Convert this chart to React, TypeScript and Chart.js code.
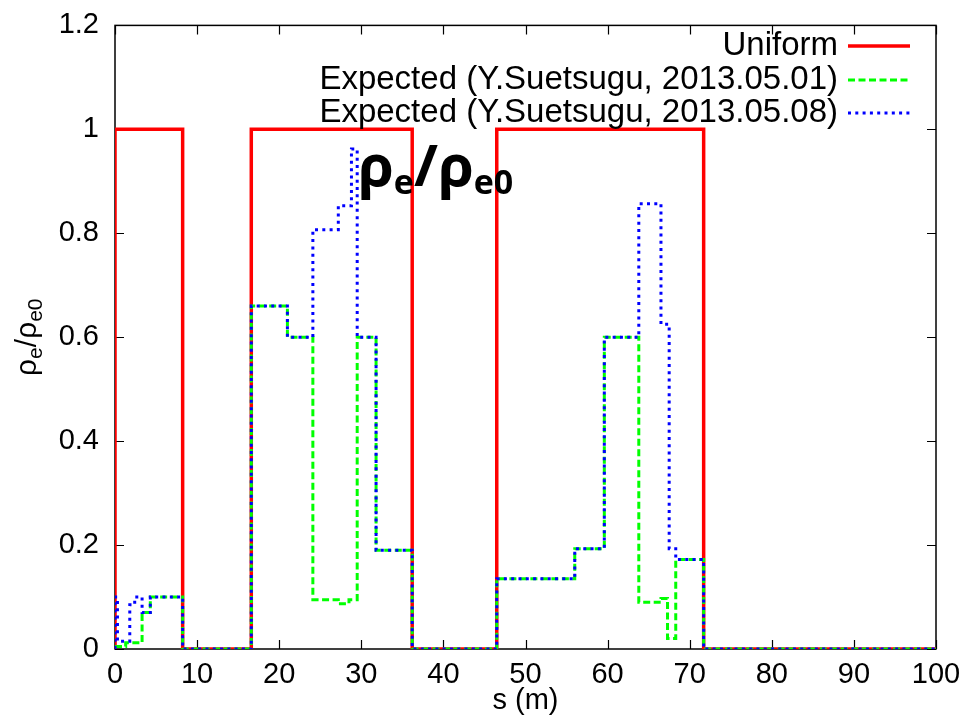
import React, { useEffect, useRef } from "react";
import { Chart, registerables } from "chart.js";

Chart.register(...registerables);

// Step data: each x is the start of an interval holding the matching y value
const uniformX = [0, 0, 8.24, 16.6, 36.2, 46.5, 71.7, 100];
const uniformY = [0, 1, 0, 1, 0, 1, 0, 0];

const may01X = [0, 1.3, 3.3, 4.3, 8.24, 16.6, 21.0, 24.1, 27.2, 28.5, 29.5, 31.8, 36.2, 46.5, 56.0, 59.6, 63.8, 66.5, 67.3, 68.3, 71.7, 100];
const may01Y = [0.005, 0.012, 0.07, 0.1, 0, 0.66, 0.6, 0.095, 0.087, 0.095, 0.6, 0.19, 0, 0.135, 0.193, 0.6, 0.09, 0.097, 0.02, 0.172, 0, 0];

const may08X = [0, 0, 0.3, 1.8, 2.4, 3.3, 4.3, 8.24, 16.6, 21.0, 24.1, 27.2, 28.8, 29.5, 31.8, 36.2, 46.5, 56.0, 59.6, 63.8, 66.5, 67.5, 68.3, 71.7, 100];
const may08Y = [0, 0.1, 0.015, 0.085, 0.1, 0.07, 0.1, 0, 0.66, 0.6, 0.807, 0.853, 0.962, 0.6, 0.19, 0, 0.135, 0.193, 0.6, 0.857, 0.625, 0.193, 0.172, 0, 0];

const seriesLabels = [
  "Uniform",
  "Expected (Y.Suetsugu, 2013.05.01)",
  "Expected (Y.Suetsugu, 2013.05.08)",
];

const xTicks = [0, 10, 20, 30, 40, 50, 60, 70, 80, 90, 100];
const xTickLabels = ["0", "10", "20", "30", "40", "50", "60", "70", "80", "90", "100"];
const yTicks = [0, 0.2, 0.4, 0.6, 0.8, 1, 1.2];
const yTickLabels = ["0", "0.2", "0.4", "0.6", "0.8", "1", "1.2"];

const xTitle = "s (m)";

const FONT = "'Liberation Sans', Arial, Helvetica, sans-serif";

const styles = [
  { color: "#ff0000", width: 3.5, dash: [] as number[] },
  { color: "#00ff00", width: 3, dash: [7, 3.5] },
  { color: "#0000ff", width: 3, dash: [3, 4.3] },
];

function toPoints(xs: number[], ys: number[]) {
  return xs.map((x, i) => ({ x, y: ys[i] }));
}

const decorPlugin = {
  id: "decor",
  beforeDatasetsDraw(chart: any) {
    const { ctx, chartArea: a, scales } = chart;
    ctx.save();
    ctx.strokeStyle = "#000";
    ctx.lineWidth = 1.5;
    ctx.strokeRect(a.left, a.top, a.right - a.left, a.bottom - a.top);
    const L = 9;
    ctx.beginPath();
    xTicks.forEach((v) => {
      const px = Math.round(scales.x.getPixelForValue(v)) + 0.5;
      ctx.moveTo(px, a.bottom);
      ctx.lineTo(px, a.bottom - L);
      ctx.moveTo(px, a.top);
      ctx.lineTo(px, a.top + L);
    });
    yTicks.forEach((v) => {
      const py = Math.round(scales.y.getPixelForValue(v)) + 0.5;
      ctx.moveTo(a.left, py);
      ctx.lineTo(a.left + L, py);
      ctx.moveTo(a.right, py);
      ctx.lineTo(a.right - L, py);
    });
    ctx.lineWidth = 1.2;
    ctx.stroke();
    ctx.restore();
  },
  afterDraw(chart: any) {
    const { ctx, chartArea: a } = chart;
    ctx.save();
    // Legend
    const rows = [46, 80, 113];
    ctx.font = `33px ${FONT}`;
    ctx.fillStyle = "#000";
    ctx.textAlign = "right";
    ctx.textBaseline = "middle";
    seriesLabels.forEach((lab, i) => {
      ctx.fillText(lab, 838, rows[i]);
      const s = styles[i];
      ctx.beginPath();
      ctx.strokeStyle = s.color;
      ctx.lineWidth = s.width;
      ctx.setLineDash(s.dash);
      ctx.moveTo(848, rows[i]);
      ctx.lineTo(910, rows[i]);
      ctx.stroke();
    });
    ctx.setLineDash([]);

    // Big annotation rho_e / rho_e0
    const big = `bold 58px 'Open Sans', 'Noto Sans', sans-serif`;
    const small = `bold 34px 'Open Sans', 'Noto Sans', sans-serif`;
    ctx.textAlign = "left";
    ctx.textBaseline = "alphabetic";
    let x = 358;
    const base = 186;
    const parts: [string, boolean][] = [["ρ", false], ["e", true], ["/", false], ["ρ", false], ["e0", true]];
    parts.forEach(([t, sub]) => {
      ctx.font = sub ? small : big;
      ctx.fillText(t, x, sub ? base + 8 : base);
      x += ctx.measureText(t).width;
    });

    // Y axis title
    const yb = `30px ${FONT}`;
    const ys = `21px ${FONT}`;
    const yparts: [string, boolean][] = [["ρ", false], ["e", true], ["/", false], ["ρ", false], ["e0", true]];
    let total = 0;
    yparts.forEach(([t, sub]) => {
      ctx.font = sub ? ys : yb;
      total += ctx.measureText(t).width;
    });
    ctx.translate(36, (a.top + a.bottom) / 2);
    ctx.rotate(-Math.PI / 2);
    let tx = -total / 2;
    yparts.forEach(([t, sub]) => {
      ctx.font = sub ? ys : yb;
      ctx.fillText(t, tx, sub ? 6 : 0);
      tx += ctx.measureText(t).width;
    });
    ctx.setTransform(1, 0, 0, 1, 0, 0);

    // X axis title
    ctx.font = `29px ${FONT}`;
    ctx.textAlign = "center";
    ctx.fillText(xTitle, (a.left + a.right) / 2, 709);
    ctx.restore();
  },
};

export default function App() {
  const ref = useRef<HTMLCanvasElement | null>(null);
  useEffect(() => {
    if (!ref.current) return;
    const data = [toPoints(uniformX, uniformY), toPoints(may01X, may01Y), toPoints(may08X, may08Y)];
    const chart = new Chart(ref.current, {
      type: "line",
      data: {
        datasets: data.map((d, i) => ({
          label: seriesLabels[i],
          data: d,
          borderColor: styles[i].color,
          borderWidth: styles[i].width,
          borderDash: styles[i].dash,
          borderCapStyle: "butt",
          pointRadius: 0,
          stepped: "before",
          fill: false,
          order: 3 - i,
        })),
      },
      options: {
        responsive: false,
        animation: false,
        events: [],
        layout: { padding: { top: 16, right: 35, left: 0, bottom: 0 } },
        plugins: { legend: { display: false }, tooltip: { enabled: false } },
        scales: {
          x: {
            type: "linear",
            min: 0,
            max: 100,
            grid: { display: false },
            border: { display: false },
            afterBuildTicks: (s: any) => {
              s.ticks = xTicks.map((v) => ({ value: v }));
            },
            afterFit: (s: any) => {
              s.height = 69;
            },
            ticks: {
              color: "#000",
              font: { family: FONT, size: 29 },
              padding: 1,
              maxRotation: 0,
              autoSkip: false,
              callback: (v: any, i: number) => xTickLabels[i],
            },
          },
          y: {
            type: "linear",
            min: 0,
            max: 1.2,
            grid: { display: false },
            border: { display: false },
            afterBuildTicks: (s: any) => {
              s.ticks = yTicks.map((v) => ({ value: v }));
            },
            afterFit: (s: any) => {
              s.width = 115;
            },
            ticks: {
              color: "#000",
              font: { family: FONT, size: 29 },
              padding: 8,
              autoSkip: false,
              callback: (v: any, i: number) => yTickLabels[i],
            },
          },
        },
      },
      plugins: [decorPlugin],
    } as any);
    return () => chart.destroy();
  }, []);
  return (
    <div style={{ position: "absolute", left: 0, top: 0, width: 971, height: 718, background: "#fff" }}>
      <canvas ref={ref} width={971} height={718} style={{ width: 971, height: 718 }} />
    </div>
  );
}
